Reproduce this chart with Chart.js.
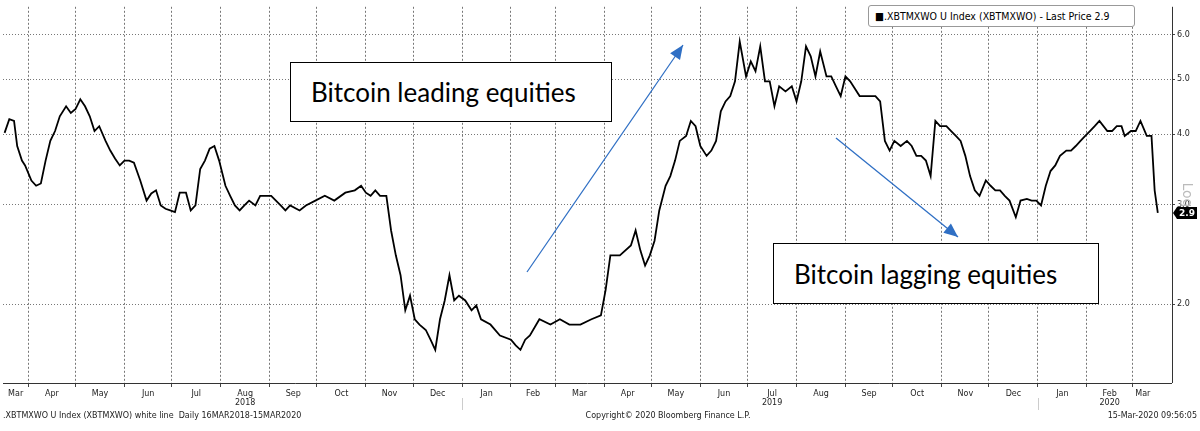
<!DOCTYPE html>
<html><head><meta charset="utf-8">
<script src="https://cdn.jsdelivr.net/npm/chart.js@4.4.1/dist/chart.umd.min.js"></script>
<style>
html,body{margin:0;padding:0;background:#fff;}
#wrap{position:relative;width:1200px;height:431px;}
.box{position:absolute;border:1.5px solid #000;background:#fff;font-family:Lato,"Open Sans",sans-serif;font-size:26px;color:#000;display:flex;align-items:center;padding-left:20px;box-sizing:border-box;white-space:nowrap;}
#legend{position:absolute;left:868px;top:5px;width:267px;height:22px;border:1px solid #999;border-radius:3px;background:#fff;font:10.5px "DejaVu Sans Condensed","DejaVu Sans",sans-serif;display:flex;align-items:center;padding-left:6px;box-sizing:border-box;white-space:nowrap;}
</style></head><body>
<div id="wrap"><canvas id="c" width="1200" height="431"></canvas>
<div class="box" style="left:290px;top:62px;width:322px;height:60px;">Bitcoin leading equities</div>
<div class="box" style="left:773px;top:243px;width:326px;height:61px;">Bitcoin lagging equities</div>
<div id="legend">■.XBTMXWO U Index (XBTMXWO) - Last Price 2.9</div>
</div>
<script>
// day offsets from 16-Mar-2018
const days=[1,4,7,9,12,14,18,21,24,27,30,33,36,40,43,46,49,52,55,58,61,65,68,71,74,77,80,83,87,91,94,97,100,103,106,109,112,116,119,122,125,128,131,134,137,141,144,147,150,153,156,160,163,170,176,179,182,188,192,198,204,210,217,223,227,230,233,236,239,243,246,249,252,255,258,261,264,268,271,274,277,280,283,286,289,293,297,300,303,309,315,322,325,328,331,334,340,347,353,359,366,373,379,382,385,391,398,401,404,407,410,413,416,420,423,426,429,433,436,439,442,446,449,452,455,458,461,464,467,471,474,477,480,483,486,489,492,496,500,503,506,509,512,515,518,522,525,528,531,534,537,543,550,553,556,559,562,565,569,573,576,579,582,585,588,591,594,598,601,604,607,610,613,616,619,623,626,629,632,635,638,642,645,649,652,655,658,661,664,667,670,674,677,680,683,686,689,692,695,700,703,706,709,711,715,718,721,725,728,730,732];
const values=[4.02,4.25,4.22,3.81,3.59,3.52,3.31,3.24,3.27,3.59,3.89,4.05,4.30,4.48,4.36,4.43,4.61,4.48,4.30,4.05,4.13,3.89,3.74,3.62,3.52,3.59,3.59,3.56,3.31,3.05,3.14,3.18,2.99,2.95,2.93,2.91,3.15,3.15,2.93,2.99,3.47,3.59,3.77,3.81,3.59,3.24,3.11,2.99,2.93,2.99,3.05,2.99,3.11,3.11,2.99,2.93,2.99,2.93,2.99,3.05,3.11,3.05,3.15,3.18,3.24,3.15,3.11,3.18,3.11,3.11,2.70,2.44,2.25,1.95,2.07,1.88,1.84,1.80,1.73,1.66,1.88,2.03,2.25,2.03,2.07,2.03,1.95,1.99,1.88,1.84,1.76,1.73,1.69,1.66,1.73,1.76,1.88,1.84,1.88,1.84,1.84,1.88,1.91,2.12,2.44,2.44,2.54,2.70,2.49,2.34,2.44,2.59,2.93,3.24,3.37,3.59,3.89,3.97,4.22,4.13,3.81,3.66,3.74,3.89,4.39,4.57,4.67,4.96,5.83,5.06,5.38,5.17,5.72,4.96,4.96,4.48,4.86,4.76,4.86,4.57,4.96,5.72,5.49,5.06,5.60,5.06,5.06,4.86,4.67,5.06,4.96,4.67,4.67,4.67,4.57,3.89,3.74,3.89,3.81,3.89,3.81,3.66,3.66,3.59,3.37,4.22,4.13,4.13,4.05,3.97,3.89,3.66,3.37,3.18,3.11,3.31,3.24,3.18,3.18,3.11,3.05,2.85,3.05,3.07,3.05,3.05,2.99,3.24,3.44,3.52,3.66,3.74,3.74,3.81,3.89,3.97,4.05,4.13,4.22,4.05,4.05,4.13,4.13,3.97,4.05,4.05,4.22,3.97,3.97,3.18,2.90];
const monthStarts=[16,46,77,107,138,169,199,230,260,291,322,350,381,411,442,472,503,534,564,595,625,656,687,716];
const monthLabels=["Mar","Apr","May","Jun","Jul","Aug","Sep","Oct","Nov","Dec","Jan","Feb","Mar","Apr","May","Jun","Jul","Aug","Sep","Oct","Nov","Dec","Jan","Feb","Mar"];
const yearLabels={5:"2018",16:"2019",23:"2020"};
const yTicks=[2,3,4,5,6];
const X_MAX=741;

const bounds=[0,...monthStarts,X_MAX-12];
const mids=[];
for(let i=0;i<bounds.length-1;i++) mids.push((bounds[i]+bounds[i+1])/2);

const overlay={id:'overlay',afterDraw(ch){
  const c=ch.ctx,ca=ch.chartArea,x=ch.scales.x,y=ch.scales.y;
  c.save();
  // solid axis lines
  c.strokeStyle='#333';c.lineWidth=1;c.setLineDash([]);
  c.beginPath();c.moveTo(ca.left,ca.bottom+0.5);c.lineTo(ca.right,ca.bottom+0.5);c.moveTo(ca.right+0.5,ca.top);c.lineTo(ca.right+0.5,ca.bottom);c.stroke();
  function arrow(x1,y1,x2,y2){
    c.strokeStyle='#2f6fc4';c.fillStyle='#2f6fc4';c.lineWidth=1.3;
    c.beginPath();c.moveTo(x1,y1);c.lineTo(x2,y2);c.stroke();
    const a=Math.atan2(y2-y1,x2-x1),L=14,W=6;
    c.beginPath();c.moveTo(x2,y2);
    c.lineTo(x2-L*Math.cos(a)+W*Math.sin(a),y2-L*Math.sin(a)-W*Math.cos(a));
    c.lineTo(x2-L*Math.cos(a)-W*Math.sin(a),y2-L*Math.sin(a)+W*Math.cos(a));
    c.closePath();c.fill();
  }
  arrow(527,272,683,45);
  arrow(836,138,958,237);
  const py=y.getPixelForValue(values[values.length-1]);
  c.fillStyle='#000';
  c.beginPath();c.moveTo(ca.right+1,py);c.lineTo(ca.right+5,py-6);c.lineTo(1197,py-6);c.lineTo(1197,py+6);c.lineTo(ca.right+5,py+6);c.closePath();c.fill();
  c.fillStyle='#fff';c.font='bold 9px "DejaVu Sans"';c.textAlign='left';c.textBaseline='middle';
  c.fillText('2.9',ca.right+7,py+1);
  c.fillStyle='#bbb';c.font='14px "DejaVu Sans"';
  c.translate(1187,195);c.rotate(Math.PI/2);c.textAlign='center';c.fillText('Log',0,0);
  c.restore();c.save();
  c.fillStyle='#222';c.font='8px "DejaVu Sans"';c.textBaseline='middle';
  c.textAlign='left';c.fillText('.XBTMXWO U Index (XBTMXWO) white line  Daily 16MAR2018-15MAR2020',3,416);
  c.textAlign='center';c.fillText('Copyright\u00A9 2020 Bloomberg Finance L.P.',668,416);
  c.textAlign='right';c.fillText('15-Mar-2020 09:56:05',1197,416);
  c.strokeStyle='#ccc';c.lineWidth=1;
  [291,656].forEach(d=>{const px=Math.round(x.getPixelForValue(d))+0.5;c.beginPath();c.moveTo(px,398);c.lineTo(px,410);c.stroke();});
  c.restore();
}};

new Chart(document.getElementById('c'),{
  type:'line',
  data:{datasets:[{data:days.map((d,i)=>({x:d,y:values[i]})),borderColor:'#000',borderWidth:1.8,pointRadius:0,tension:0}]},
  options:{
    responsive:false,animation:false,
    layout:{padding:{left:3,top:5,right:0,bottom:0}},
    plugins:{legend:{display:false},tooltip:{enabled:false}},
    scales:{
      x:{type:'linear',min:0,max:X_MAX,
        afterBuildTicks(s){s.ticks=[...monthStarts.map(v=>({value:v,kind:'g'})),...mids.map((v,i)=>({value:v,kind:'l',idx:i}))];},
        afterFit(s){s.height=48;},
        ticks:{autoSkip:false,maxRotation:0,padding:2,color:'#222',font:{family:'DejaVu Sans',size:8},
          callback(v,i,t){const tk=t[i];if(tk.kind!=='l')return '';const yl=yearLabels[tk.idx];return yl?[monthLabels[tk.idx],yl]:monthLabels[tk.idx];}},
        grid:{color:c=>c.tick&&c.tick.kind==='g'?'#777':'rgba(0,0,0,0)',tickColor:c=>c.tick&&c.tick.kind==='g'?'#444':'rgba(0,0,0,0)',tickLength:4,lineWidth:1},
        border:{display:false,dash:[2,2]}
      },
      y:{type:'logarithmic',position:'right',min:1.45,max:6.72,
        afterBuildTicks(s){s.ticks=yTicks.map(v=>({value:v}));},
        afterFit(s){s.width=28;},
        ticks:{color:'#222',padding:2,font:{family:'DejaVu Sans',size:8},callback:v=>Number(v).toFixed(1)},
        grid:{color:'#777',tickColor:'#444',tickLength:3,lineWidth:1},
        border:{display:false,dash:[1,2]}
      }
    }
  },
  plugins:[overlay]
});
</script>
</body></html>
